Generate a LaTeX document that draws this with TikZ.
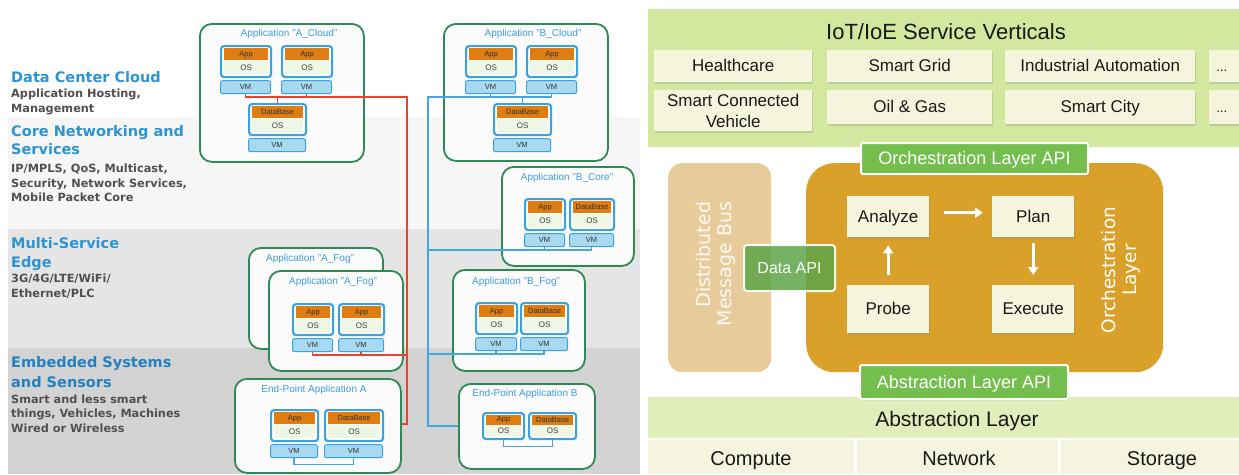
\documentclass[tikz,border=0pt]{standalone}
\usepackage{fontspec}
\setmainfont{Liberation Sans}
\newfontfamily\dvs{DejaVu Sans}
\usetikzlibrary{shadows,arrows.meta}
\definecolor{bandA}{HTML}{F6F6F6}
\definecolor{bandB}{HTML}{E5E5E5}
\definecolor{bandC}{HTML}{D3D3D3}
\definecolor{boxgreen}{HTML}{2E8A55}
\definecolor{boxfill}{HTML}{FBFBFB}
\definecolor{ttlblue}{HTML}{3F9DDA}
\definecolor{headblue}{HTML}{2E93D2}
\definecolor{headbluedk}{HTML}{2281C0}
\definecolor{subgray}{HTML}{505050}
\definecolor{stkblue}{HTML}{39A3DF}
\definecolor{apporange}{HTML}{DF7C12}
\definecolor{osgreen}{HTML}{EEF6E6}
\definecolor{vmblue}{HTML}{A9D8F1}
\definecolor{linered}{HTML}{E8432B}
\definecolor{lineblue}{HTML}{45A6DD}
\definecolor{topgreen}{HTML}{D3E79F}
\definecolor{cream}{HTML}{F5F4DC}
\definecolor{goldbox}{HTML}{D9A12A}
\definecolor{tanbox}{HTML}{E8CB9B}
\definecolor{apigreen}{HTML}{74BE4D}
\definecolor{datagreen}{HTML}{5EA548}
\definecolor{abbar}{HTML}{E2EDBC}
\definecolor{cellcream}{HTML}{F5F5DF}
\tikzset{
  appbox/.style={draw=boxgreen, line width=1.8pt, fill=boxfill, rounded corners=12pt, inner sep=0, anchor=north west},
  boxtitle/.style={text=ttlblue, font=\fontsize{10}{12}\selectfont, inner sep=0},
  stkout/.style={draw=stkblue, line width=2.2pt, rounded corners=3pt, fill=white, inner sep=0, anchor=north west},
  appbar/.style={fill=apporange, inner sep=0, anchor=north, text=black!80, font=\fontsize{7.5}{8}\selectfont},
  osbar/.style={fill=osgreen, inner sep=0, anchor=north, text=black!75, font=\fontsize{8}{9}\selectfont},
  vmbar/.style={draw=stkblue, line width=1pt, fill=vmblue, rounded corners=2pt, inner sep=0, minimum height=13pt, anchor=north west, text=black!80, font=\fontsize{7.5}{8}\selectfont},
  redln/.style={draw=linered, line width=1.5pt},
  blueln/.style={draw=lineblue, line width=1.5pt},
  thinblue/.style={draw=lineblue, line width=1.2pt},
  heading/.style={anchor=base west, inner sep=0, font=\dvs\bfseries\fontsize{14.5}{17}\selectfont},
  subtext/.style={anchor=base west, inner sep=0, text=subgray, font=\dvs\bfseries\fontsize{11.3}{14}\selectfont},
  crm/.style={fill=cream, inner sep=0, anchor=north west, text=black!90, font=\fontsize{17}{19}\selectfont, drop shadow={shadow xshift=1pt, shadow yshift=-1.5pt, opacity=0.25}},
  vbox/.style={crm, text height=12.3pt, text depth=0.8pt},
  apibox/.style={fill=apigreen, draw=white, line width=2pt, rounded corners=2pt, inner sep=0, anchor=north west, text=white, font=\fontsize{18}{20}\selectfont, text height=13pt, text depth=1pt, drop shadow={shadow xshift=1pt, shadow yshift=-1.5pt, opacity=0.25}},
  cell/.style={fill=cellcream, inner sep=0, anchor=north west},
  warrow/.style={draw=white, line width=2.6pt, -{Triangle[length=8pt,width=10pt]}},
  bigtext/.style={text=black!90, inner sep=0, font=\fontsize{20}{24}\selectfont, text height=14.5pt, text depth=1pt}
}
\newcommand\vmstack[6]{%
  \pgfmathsetmacro\iw{#4-6}%
  \node[stkout, minimum width=#4pt, minimum height=31pt] (#1) at (#2,#3) {};
  \node[appbar, minimum width=\iw pt, minimum height=12pt] (#1a) at ([yshift=-3pt]#1.north) {#5};
  \node[osbar, minimum width=\iw pt, minimum height=13.5pt] (#1o) at (#1a.south) {OS};
  \ifnum#6=1 \node[vmbar, minimum width=#4pt] (#1v) at ([yshift=-2pt]#1.south west) {VM};\fi
}
\newcommand\epstack[5]{%
  \pgfmathsetmacro\iw{#4-6}%
  \node[stkout, minimum width=#4pt, minimum height=26pt] (#1) at (#2,#3) {};
  \node[appbar, minimum width=\iw pt, minimum height=10pt] (#1a) at ([yshift=-2.5pt]#1.north) {#5};
  \node[osbar, minimum width=\iw pt, minimum height=11pt] (#1o) at (#1a.south) {OS};
}
\begin{document}
\begin{tikzpicture}[x=1pt,y=-1pt]
\useasboundingbox (0,0) rectangle (1239,474);
\fill[white] (0,0) rectangle (1239,474);
% ---------------- left panel bands
\fill[bandA] (8,117) rectangle (640,229);
\fill[bandB] (8,229) rectangle (640,348);
\fill[bandC] (8,348) rectangle (640,474);
% headings
\node[heading, text=headblue] (h1) at (11,82) {Data Center Cloud};
\node[subtext] (s1a) at (11,97) {Application Hosting,};
\node[subtext] (s1b) at (11,112) {Management};
\node[heading, text=headblue] (h2a) at (11,136) {Core Networking and};
\node[heading, text=headblue] (h2b) at (11,154) {Services};
\node[subtext] (s2a) at (11,172) {IP/MPLS, QoS, Multicast,};
\node[subtext] (s2b) at (11,187) {Security, Network Services,};
\node[subtext] (s2c) at (11,201) {Mobile Packet Core};
\node[heading, text=headblue] (h3a) at (11,248) {Multi-Service};
\node[heading, text=headblue] (h3b) at (11,267) {Edge};
\node[subtext] (s3a) at (11,282) {3G/4G/LTE/WiFi/};
\node[subtext] (s3b) at (11,297) {Ethernet/PLC};
\node[heading, text=headbluedk] (h4a) at (11,367) {Embedded Systems};
\node[heading, text=headbluedk] (h4b) at (11,387) {and Sensors};
\node[subtext] (s4a) at (11,403) {Smart and less smart};
\node[subtext] (s4b) at (11,417) {things, Vehicles, Machines};
\node[subtext] (s4c) at (11,432) {Wired or Wireless};
% ---------------- application boxes
\node[appbox, minimum width=164pt, minimum height=138pt] (acl) at (199,23) {};
\node[boxtitle] (aclt) at (289,34) {Application "A\_Cloud"};
\vmstack{ac1}{220}{45}{50}{App}{1}
\vmstack{ac2}{281}{45}{50}{App}{1}
\vmstack{acdb}{248}{103}{57}{DataBase}{1}
\node[appbox, minimum width=134pt, minimum height=101pt] (afb) at (248,247) {};
\node[boxtitle] (afbt) at (310,259) {Application "A\_Fog"};
\node[appbox, minimum width=134pt, minimum height=100pt] (aff) at (268,270) {};
\node[boxtitle] (afft) at (333,282) {Application "A\_Fog"};
\vmstack{af1}{292}{303}{40}{App}{1}
\vmstack{af2}{338}{303}{45}{App}{1}
\node[appbox, minimum width=166pt, minimum height=94pt] (epa) at (234,378) {};
\node[boxtitle] (epat) at (314,390) {End-Point Application A};
\vmstack{ea1}{270}{409}{47}{App}{1}
\vmstack{ea2}{324}{409}{58}{DataBase}{1}
\node[appbox, minimum width=164pt, minimum height=137pt] (bcl) at (443,23) {};
\node[boxtitle] (bclt) at (533,34) {Application "B\_Cloud"};
\vmstack{bc1}{465}{45}{50}{App}{1}
\vmstack{bc2}{526}{45}{50}{App}{1}
\vmstack{bcdb}{493}{103}{57}{DataBase}{1}
\node[appbox, minimum width=132pt, minimum height=99pt] (bco) at (501,166) {};
\node[boxtitle] (bcot) at (567,178) {Application "B\_Core"};
\vmstack{bk1}{524}{198}{40}{App}{1}
\vmstack{bk2}{569}{198}{44}{DataBase}{1}
\node[appbox, minimum width=132pt, minimum height=101pt] (bfg) at (452,269) {};
\node[boxtitle] (bfgt) at (516,282) {Application "B\_Fog"};
\vmstack{bf1}{475}{302}{41}{App}{1}
\vmstack{bf2}{520}{302}{47}{DataBase}{1}
\node[appbox, minimum width=136pt, minimum height=85pt] (epb) at (458,383) {};
\node[boxtitle] (epbt) at (525,394) {End-Point Application B};
\epstack{eb1}{482}{412}{41}{App}
\epstack{eb2}{528}{412}{47}{DataBase}
% ---------------- connectors
\coordinate (rTop) at (407,97);
\coordinate (rBot) at (407,424);
\coordinate (rFog) at (407,355);
\draw[redln] (ac1v.south) |- (rTop) -- (rBot) -- (epa.east |- rBot);
\draw[redln] (ac2v.south) -- (ac2v.south |- rTop);
\draw[redln] (acdb.north) -- (acdb.north |- rTop);
\draw[redln] (af1v.south) |- (rFog);
\draw[redln] (af2v.south) -- (af2v.south |- rFog);
\coordinate (bTop) at (428,97);
\coordinate (bBot) at (428,426);
\coordinate (bCore) at (428,250);
\coordinate (bFog) at (428,354);
\draw[blueln] (bc2v.south) |- (bTop) -- (bBot) -- (epb.west |- bBot);
\draw[blueln] (bc1v.south) -- (bc1v.south |- bTop);
\draw[blueln] (bcdb.north) -- (bcdb.north |- bTop);
\draw[blueln] (bk2v.south) |- (bCore);
\draw[blueln] (bk1v.south) -- (bk1v.south |- bCore);
\draw[blueln] (bf2v.south) |- (bFog);
\draw[blueln] (bf1v.south) -- (bf1v.south |- bFog);
\draw[thinblue] (ea1v.south) -- ++(0,6) -| (ea2v.south);
\draw[thinblue] (eb1.south) -- ++(0,6) -| (eb2.south);
% ---------------- right panel
\node[fill=topgreen, inner sep=0, anchor=north west, minimum width=591pt, minimum height=138pt] (vert) at (648,9) {};
\node[bigtext, font=\fontsize{22}{24}\selectfont, text height=16pt, text depth=1pt] (vertt) at (946,32) {IoT/IoE Service Verticals};
\node[vbox, minimum width=158pt, minimum height=32pt] (hc) at (654,50) {Healthcare};
\node[vbox, minimum width=165pt, minimum height=32pt] (sg) at (827,50) {Smart Grid};
\node[vbox, minimum width=190pt, minimum height=32pt] (ia) at (1005,50) {Industrial Automation};
\node[vbox, minimum width=40pt, minimum height=32pt, text width=30pt, align=left, font=\fontsize{13}{15}\selectfont] (d1) at (1209,50) {\,...};
\node[crm, minimum width=158pt, minimum height=41pt, align=center, font=\fontsize{17}{21}\selectfont] (scv) at (654,90) {Smart Connected\\Vehicle};
\node[vbox, minimum width=165pt, minimum height=34pt] (og) at (827,90) {Oil \& Gas};
\node[vbox, minimum width=190pt, minimum height=34pt] (sc) at (1005,90) {Smart City};
\node[vbox, minimum width=40pt, minimum height=34pt, text width=30pt, align=left, font=\fontsize{13}{15}\selectfont] (d2) at (1209,90) {\,...};
% orchestration
\node[fill=tanbox, rounded corners=14pt, inner sep=0, anchor=north west, minimum width=103pt, minimum height=209pt] (dmb) at (668,163) {};
\node[rotate=90, align=right, text=white, text opacity=0.9, inner sep=0, font=\dvs\fontsize{19}{21}\selectfont] (dmbt) at (716,264) {Distributed\\Message Bus};
\node[fill=goldbox, rounded corners=28pt, inner sep=0, anchor=north west, minimum width=357pt, minimum height=209pt] (orch) at (806,163) {};
\node[rotate=90, align=center, text=white, inner sep=0, font=\dvs\fontsize{18.5}{21}\selectfont] (orcht) at (1121,270) {Orchestration\\Layer};
\node[vbox, minimum width=82pt, minimum height=41pt] (an) at (847,196) {Analyze};
\node[vbox, minimum width=82pt, minimum height=41pt] (pl) at (992,196) {Plan};
\node[vbox, minimum width=82pt, minimum height=48pt] (pr) at (847,285) {Probe};
\node[vbox, minimum width=82pt, minimum height=48pt] (ex) at (992,285) {Execute};
\draw[warrow, shorten <=15pt, shorten >=9pt] ([yshift=4pt]an.east) -- ([yshift=4pt]pl.west);
\draw[warrow, shorten <=10pt, shorten >=8pt] (pr.north) -- (an.south);
\draw[warrow, shorten <=6pt, shorten >=10pt] (pl.south) -- (ex.north);
\node[fill=datagreen, fill opacity=0.85, text opacity=1, draw=white, draw opacity=0.9, line width=2pt, rounded corners=3pt, inner sep=0, anchor=north west, minimum width=91pt, minimum height=46pt, text=white, font=\fontsize{16}{18}\selectfont, text height=11.5pt, text depth=1pt] (dapi) at (743,244) {Data API};
\node[apibox, minimum width=227pt, minimum height=31pt] (oapi) at (860,142) {Orchestration Layer API};
% abstraction
\node[fill=abbar, inner sep=0, anchor=north west, minimum width=591pt, minimum height=41pt] (abl) at (648,397) {};
\node[bigtext, font=\fontsize{21}{24}\selectfont, text height=15pt] (ablt) at (957,419) {Abstraction Layer};
\node[apibox, minimum width=208pt, minimum height=34pt] (aapi) at (859,364) {Abstraction Layer API};
\node[cell, minimum width=206pt, minimum height=34pt] (cmp) at (648,440) {};
\node[cell, minimum width=201pt, minimum height=34pt] (net) at (857,440) {};
\node[cell, minimum width=178pt, minimum height=34pt] (sto) at (1061,440) {};
\node[bigtext] (cmpt) at (751,459) {Compute};
\node[bigtext] (nett) at (959,459) {Network};
\node[bigtext] (stot) at (1162,459) {Storage};
\end{tikzpicture}
\end{document}
